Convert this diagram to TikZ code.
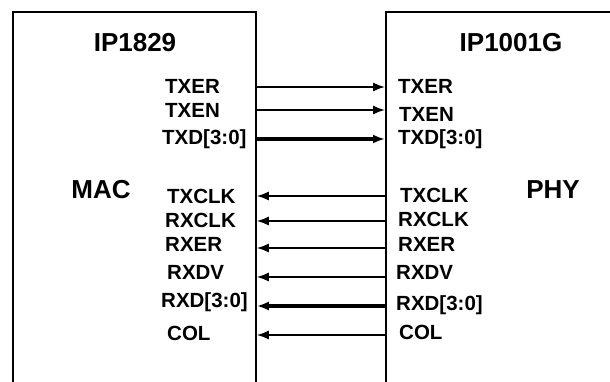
\documentclass[tikz,border=0pt]{standalone}
\usepackage{fontspec}
\setmainfont{Liberation Sans}
\usetikzlibrary{arrows.meta,positioning}

\begin{document}
\begin{tikzpicture}[
  x=1pt,y=1pt,
  chip/.style={draw,line width=1.8pt,anchor=north west,minimum height=420pt,inner sep=0pt},
  title/.style={font=\bfseries\fontsize{26}{26}\selectfont,inner sep=0pt},
  pin/.style={font=\bfseries\fontsize{20.5}{20.5}\selectfont,anchor=west,inner sep=0pt},
  sig/.style={line width=1.6pt,-{Latex[length=12pt,width=9pt]}},
  bus/.style={line width=4pt,-{Latex[length=12pt,width=9pt]}}
]
  \useasboundingbox (0,0) rectangle (610,381);

  \node[chip,minimum width=243pt] (mac) at (12,370) {};
  \node[chip,minimum width=260pt] (phy) at (385,370) {};

  \node[title] (maccore) at (135,338) {IP1829};
  \node[title] (phycore) at (511,338) {IP1001G};
  \node[title] (macname) at (101,191) {MAC};
  \node[title] (phyname) at (553,191) {PHY};

  % MAC side pins
  \node[pin] (mtxer) at (165,295) {TXER};
  \node[pin] (mtxen) at (165,271) {TXEN};
  \node[pin] (mtxd)  at (162,242) {TXD[3:0]};
  \node[pin] (mtxclk) at (167,185) {TXCLK};
  \node[pin] (mrxclk) at (165,161) {RXCLK};
  \node[pin] (mrxer) at (165,137) {RXER};
  \node[pin] (mrxdv) at (167,109) {RXDV};
  \node[pin] (mrxd)  at (161,79) {RXD[3:0]};
  \node[pin] (mcol)  at (167,48) {COL};

  % PHY side pins
  \node[pin] (ptxer) at (398,295) {TXER};
  \node[pin] (ptxen) at (399,267) {TXEN};
  \node[pin] (ptxd)  at (398,242) {TXD[3:0]};
  \node[pin] (ptxclk) at (400,186) {TXCLK};
  \node[pin] (prxclk) at (398,162) {RXCLK};
  \node[pin] (prxer) at (398,137) {RXER};
  \node[pin] (prxdv) at (396,109) {RXDV};
  \node[pin] (prxd)  at (396,76) {RXD[3:0]};
  \node[pin] (pcol)  at (399,49) {COL};

  % signal lines
  \coordinate (txer) at (0,294);
  \coordinate (txen) at (0,271);
  \coordinate (txd) at (0,242);
  \coordinate (txclk) at (0,185);
  \coordinate (rxclk) at (0,160);
  \coordinate (rxer) at (0,133);
  \coordinate (rxdv) at (0,104);
  \coordinate (rxd) at (0,75);
  \coordinate (col) at (0,46);

  \draw[sig] (mac.east |- txer) -- (phy.west |- txer);
  \draw[sig] (mac.east |- txen) -- (phy.west |- txen);
  \draw[bus] (mac.east |- txd) -- (phy.west |- txd);
  \draw[sig] (phy.west |- txclk) -- (mac.east |- txclk);
  \draw[sig] (phy.west |- rxclk) -- (mac.east |- rxclk);
  \draw[sig] (phy.west |- rxer) -- (mac.east |- rxer);
  \draw[sig] (phy.west |- rxdv) -- (mac.east |- rxdv);
  \draw[bus] (phy.west |- rxd) -- (mac.east |- rxd);
  \draw[sig] (phy.west |- col) -- (mac.east |- col);
\end{tikzpicture}
\end{document}
